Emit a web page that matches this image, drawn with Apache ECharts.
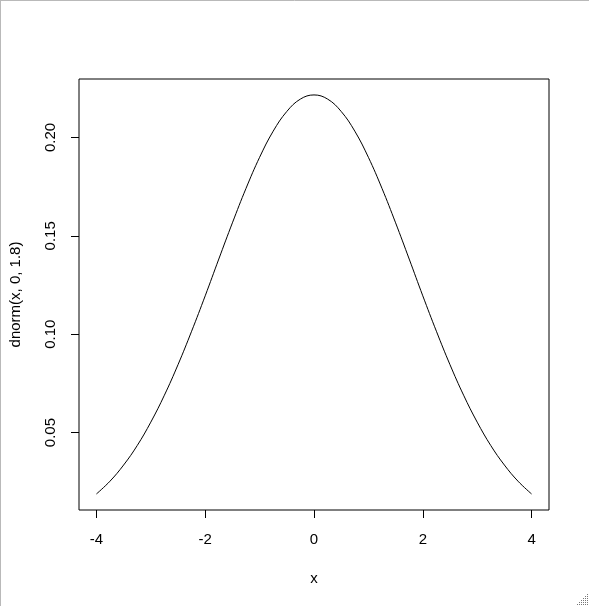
<!DOCTYPE html>
<html>
<head>
<meta charset="utf-8">
<script src="https://cdn.jsdelivr.net/npm/echarts@6/dist/echarts.min.js"></script>
<style>
html,body{margin:0;padding:0;background:#fff;}
#c{width:589px;height:606px;}
</style>
</head>
<body>
<div id="c"></div>
<script>
// x values and dnorm(x, 0, 1.8) values
const xValues = [-4, -3.75, -3.5, -3.25, -3, -2.75, -2.5, -2.25, -2, -1.75, -1.5, -1.25, -1, -0.75, -0.5, -0.25, 0,
                 0.25, 0.5, 0.75, 1, 1.25, 1.5, 1.75, 2, 2.25, 2.5, 2.75, 3, 3.25, 3.5, 3.75, 4];
const yValues = [0.0188, 0.0253, 0.0335, 0.0434, 0.0553, 0.0690, 0.0845, 0.1015, 0.1195, 0.1382, 0.1566, 0.1741, 0.1899, 0.2032, 0.2132, 0.2195, 0.2216,
                 0.2195, 0.2132, 0.2032, 0.1899, 0.1741, 0.1566, 0.1382, 0.1195, 0.1015, 0.0845, 0.0690, 0.0553, 0.0434, 0.0335, 0.0253, 0.0188];
const xTicks = [-4, -2, 0, 2, 4];
const yTicks = [0.05, 0.10, 0.15, 0.20];
const xTitle = 'x';
const yTitle = 'dnorm(x, 0, 1.8)';

const chart = echarts.init(document.getElementById('c'), null, {renderer: 'canvas'});
const font = 'Liberation Sans, Arial, sans-serif';
const grip = [];
for (let i = 0; i < 6; i++) {
  for (let j = 0; j < 6; j++) {
    if (i + j >= 5) grip.push({type: 'rect', shape: {x: 577 + 2 * i, y: 594 + 2 * j, width: 1, height: 1}, style: {fill: '#777'}, silent: true});
  }
}
chart.setOption({
  animation: false,
  backgroundColor: '#fff',
  textStyle: {fontFamily: font},
  grid: {left: 79, right: 40, top: 79, bottom: 96, show: true, borderColor: '#000', borderWidth: 1, backgroundColor: 'transparent'},
  graphic: [
    {type: 'line', shape: {x1: 0, y1: 0.5, x2: 589, y2: 0.5}, style: {stroke: '#b9b9b9', lineWidth: 1}, silent: true},
    {type: 'line', shape: {x1: 0.5, y1: 0, x2: 0.5, y2: 606}, style: {stroke: '#b9b9b9', lineWidth: 1}, silent: true}
  ].concat(grip),
  xAxis: {
    type: 'value', min: -4.32, max: 4.32,
    name: xTitle, nameLocation: 'middle', nameGap: 61,
    nameTextStyle: {fontSize: 15, color: '#000', fontFamily: font},
    axisLine: {show: false, onZero: false},
    axisTick: {show: true, customValues: xTicks, length: 8, lineStyle: {color: '#000'}},
    axisLabel: {customValues: xTicks, fontSize: 15, color: '#000', margin: 22, fontFamily: font,
      formatter: v => String(v)},
    splitLine: {show: false}
  },
  yAxis: {
    type: 'value', min: 0.01065, max: 0.2297,
    name: yTitle, nameLocation: 'middle', nameGap: 56, nameRotate: 90,
    nameTextStyle: {fontSize: 15, color: '#000', fontFamily: font},
    axisLine: {show: false, onZero: false},
    axisTick: {show: true, customValues: yTicks, length: 8, lineStyle: {color: '#000'}},
    axisLabel: {customValues: yTicks, fontSize: 15, color: '#000', margin: 21, rotate: 90, fontFamily: font,
      formatter: v => v.toFixed(2)},
    splitLine: {show: false}
  },
  series: [{
    type: 'line',
    data: xValues.map((x, i) => [x, yValues[i]]),
    showSymbol: false,
    smooth: 0.4,
    lineStyle: {color: '#000', width: 1},
    silent: true
  }]
});
</script>
</body>
</html>
